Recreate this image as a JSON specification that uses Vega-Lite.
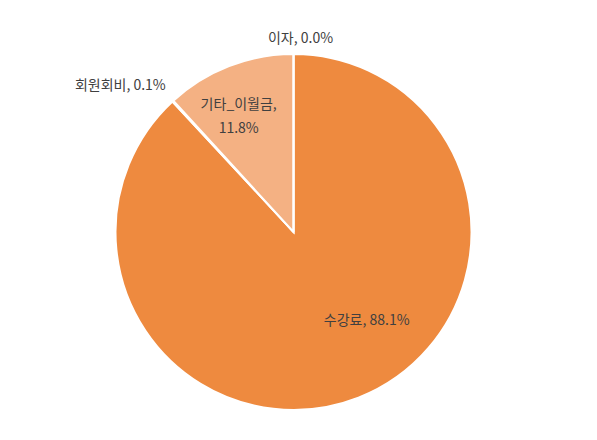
{
  "$schema": "https://vega.github.io/schema/vega-lite/v6.json",
  "autosize": "none",
  "width": 587,
  "height": 416,
  "padding": {"left": 0, "top": 24, "right": 10, "bottom": 0},
  "background": "white",
  "config": {"view": {"stroke": null}, "font": "Noto Sans CJK KR"},
  "data": {
    "values": [
      {"cat": "수강료", "value": 88.1, "rank": 1, "label": "수강료, 88.1%"},
      {"cat": "회원회비", "value": 0.1, "rank": 2, "label": "회원회비, 0.1%"},
      {"cat": "기타_이월금", "value": 11.8, "rank": 3, "label": "기타_이월금,\n11.8%"},
      {"cat": "이자", "value": 0.0, "rank": 4, "label": "이자, 0.0%"}
    ]
  },
  "encoding": {
    "theta": {"field": "value", "type": "quantitative", "stack": true},
    "order": {"field": "rank", "type": "quantitative"}
  },
  "layer": [
    {
      "mark": {"type": "arc", "outerRadius": 178, "stroke": "white", "strokeWidth": 2},
      "encoding": {
        "color": {
          "field": "cat",
          "type": "nominal",
          "scale": {
            "domain": ["수강료", "회원회비", "기타_이월금", "이자"],
            "range": ["#EE8A3F", "#EE8A3F", "#F4B183", "#F4B183"]
          },
          "legend": null
        }
      }
    },
    {
      "mark": {"type": "text", "radius": 110, "dx": 33, "dy": -13, "fontSize": 14, "color": "#404040"},
      "encoding": {
        "text": {"condition": {"test": "datum.cat === '수강료'", "field": "label"}, "value": ""}
      }
    },
    {
      "mark": {"type": "text", "radius": 132, "dx": -7, "dy": -4, "fontSize": 14, "color": "#404040", "lineBreak": "\n", "lineHeight": 24},
      "encoding": {
        "text": {"condition": {"test": "datum.cat === '기타_이월금'", "field": "label"}, "value": ""}
      }
    },
    {
      "mark": {"type": "text", "radius": 229, "dx": -18, "dy": 22, "fontSize": 14, "color": "#404040"},
      "encoding": {
        "text": {"condition": {"test": "datum.cat === '회원회비'", "field": "label"}, "value": ""}
      }
    },
    {
      "mark": {"type": "text", "radius": 193, "dx": 7, "dy": 0, "fontSize": 14, "color": "#404040"},
      "encoding": {
        "text": {"condition": {"test": "datum.cat === '이자'", "field": "label"}, "value": ""}
      }
    }
  ]
}
